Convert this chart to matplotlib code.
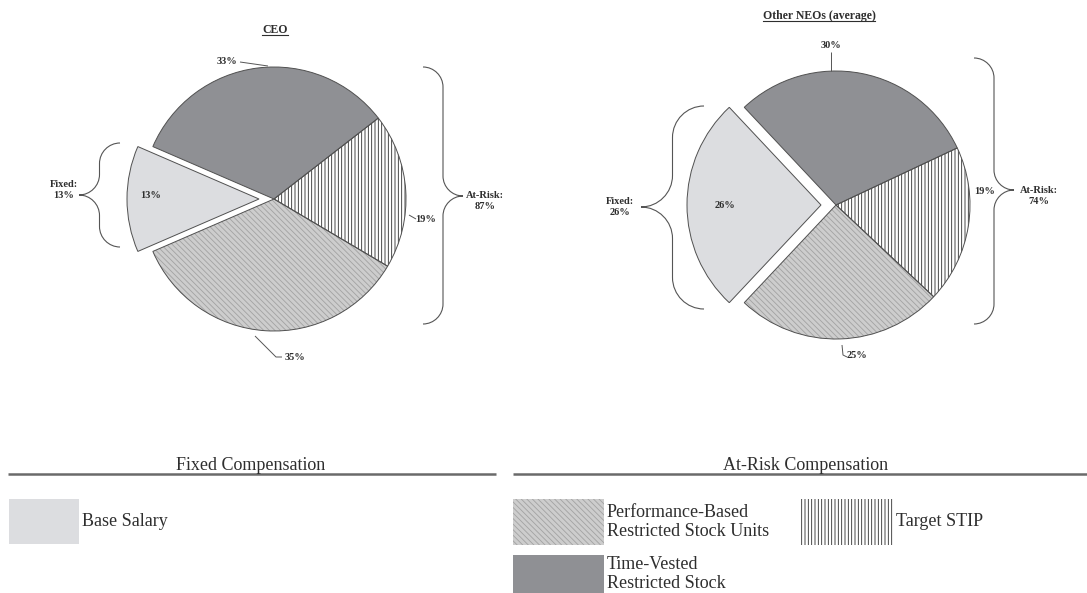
import matplotlib
matplotlib.use("Agg")
import matplotlib.pyplot as plt
from matplotlib.patches import Rectangle, PathPatch
from matplotlib.path import Path

plt.rcParams['font.family'] = ['Liberation Serif', 'DejaVu Serif']
plt.rcParams['hatch.linewidth'] = 0.6

# data
categories = ["Base Salary", "Performance-Based\nRestricted Stock Units",
              "Target STIP", "Time-Vested\nRestricted Stock"]
ceo_pct = [13, 35, 19, 33]
neo_pct = [26, 25, 19, 30]
pie_titles = ["CEO", "Other NEOs (average)"]
group_titles = ["Fixed Compensation", "At-Risk Compensation"]

fills = ['#dcdde0', '#cdcdcd', '#ffffff', '#8f9094']
hatches = [None, '\\\\\\\\\\\\', '|||||', None]
hatch_cols = [None, '#a2a2a2', '#2a2a2a', None]
EDGE = '#505050'
TXT = '#2e2e2e'

W, H = 1087, 593
fig = plt.figure(figsize=(W / 100, H / 100), dpi=100)
ax = fig.add_axes([0, 0, 1, 1])


def Y(y):
    return H - y


def brace(x_end, x_tip, y0, y1, ytip):
    # curly brace, pixel coords (y down)
    xm = (x_end + x_tip) / 2
    d = abs(x_tip - x_end) / 2
    k = 0.55
    pts = [
        (x_end, y0),
        (x_end + k * (xm - x_end), y0), (xm, y0 + d - k * d), (xm, y0 + d),
        (xm, ytip - d),
        (xm, ytip - d + k * d), (x_tip - k * (x_tip - xm), ytip), (x_tip, ytip),
        (x_tip - k * (x_tip - xm), ytip), (xm, ytip + d - k * d), (xm, ytip + d),
        (xm, y1 - d),
        (xm, y1 - d + k * d), (x_end + k * (xm - x_end), y1), (x_end, y1),
    ]
    codes = [Path.MOVETO] + [Path.CURVE4] * 3 + [Path.LINETO] + [Path.CURVE4] * 6 + \
            [Path.LINETO] + [Path.CURVE4] * 3
    p = Path([(x, Y(y)) for x, y in pts], codes)
    ax.add_patch(PathPatch(p, fill=False, edgecolor='#555555', lw=0.8))


def draw_pie(vals, cx, cy, r):
    start = 180 - vals[0] * 1.8
    kw = dict(explode=[15, 0, 0, 0], startangle=start, counterclock=True,
              radius=r, center=(cx, Y(cy)))
    wedges, _ = ax.pie(vals, colors=fills, wedgeprops=dict(linewidth=0), **kw)
    for w, h, hc in zip(wedges, hatches, hatch_cols):
        if h:
            w.set_hatch(h)
            w.set_edgecolor(hc)
    ax.pie(vals, colors=['none'] * 4,
           wedgeprops=dict(fill=False, edgecolor=EDGE, linewidth=0.7), **kw)


def label(x, y, s, size=7.5, ha='center'):
    ax.text(x, Y(y), s, ha=ha, va='center', fontsize=size, fontweight='bold',
            color=TXT, linespacing=1.15)


def line(xs, ys, lw=0.7, c='#555555'):
    ax.plot(xs, [Y(v) for v in ys], color=c, lw=lw, solid_capstyle='butt')


# CEO pie
draw_pie(ceo_pct, 274, 199, 132)
label(151, 195, f"{ceo_pct[0]}%")
label(227, 61, f"{ceo_pct[3]}%")
line([240, 268], [62, 66])
label(426, 219, f"{ceo_pct[2]}%")
line([409, 416], [215, 219])
label(295, 358, f"{ceo_pct[1]}%")
line([255, 276, 282], [336, 357, 357])
label(64, 190, f"Fixed:\n{ceo_pct[0]}%")
brace(120, 79, 143, 247, 195)
label(485, 201, f"At-Risk:\n{100 - ceo_pct[0]}%")
brace(423, 463, 67, 324, 196)

# Other NEOs pie
draw_pie(neo_pct, 836, 205, 134)
label(725, 206, f"{neo_pct[0]}%")
label(831, 45, f"{neo_pct[3]}%")
line([831, 831], [52, 71])
label(985, 191, f"{neo_pct[2]}%")
label(857, 356, f"{neo_pct[1]}%")
line([842, 843, 847], [345, 355, 357])
label(620, 207, f"Fixed:\n{neo_pct[0]}%")
brace(704, 641, 106, 309, 207)
label(1039, 196, f"At-Risk:\n{100 - neo_pct[0]}%")
brace(974, 1014, 58, 324, 190)

# legend section
ax.text(251, Y(465), group_titles[0], ha='center', va='center', fontsize=13, color=TXT)
ax.text(806, Y(465), group_titles[1], ha='center', va='center', fontsize=13, color=TXT)
line([8, 496], [474, 474], lw=1.8, c='#6a6a6a')
line([513, 1087], [474, 474], lw=1.8, c='#6a6a6a')

boxes = [(8.6, 498.5, 70, 45), (513, 499, 91, 46), (800, 499, 93, 46), (513, 555, 91, 46)]
text_dy = [23, 23, 23, 19]
for i, (bx, by, bw, bh) in enumerate(boxes):
    rect = Rectangle((bx, Y(by + bh)), bw, bh, facecolor=fills[i], linewidth=0)
    if hatches[i]:
        rect.set_hatch(hatches[i])
        rect.set_edgecolor(hatch_cols[i])
    ax.add_patch(rect)
    ax.text(bx + bw + 3, Y(by + text_dy[i]), categories[i], ha='left', va='center',
            fontsize=13, color=TXT, linespacing=1.2)

ax.set_xlim(0, W)
ax.set_ylim(0, H)
ax.set_aspect('auto')
ax.axis('off')

# titles, underlined
title_objs = [
    ax.text(275, Y(30), pie_titles[0], ha='center', va='center', fontsize=8.5,
            fontweight='bold', color=TXT),
    ax.text(819, Y(16), pie_titles[1], ha='center', va='center', fontsize=8.5,
            fontweight='bold', color=TXT),
]
fig.canvas.draw()
inv = ax.transData.inverted()
for t in title_objs:
    bb = t.get_window_extent()
    (x0, y0), (x1, _) = inv.transform([(bb.x0, bb.y0), (bb.x1, bb.y1)])
    ax.plot([x0, x1], [y0 + 1.5, y0 + 1.5], color=TXT, lw=0.8)

fig.savefig("out.png", dpi=100)
